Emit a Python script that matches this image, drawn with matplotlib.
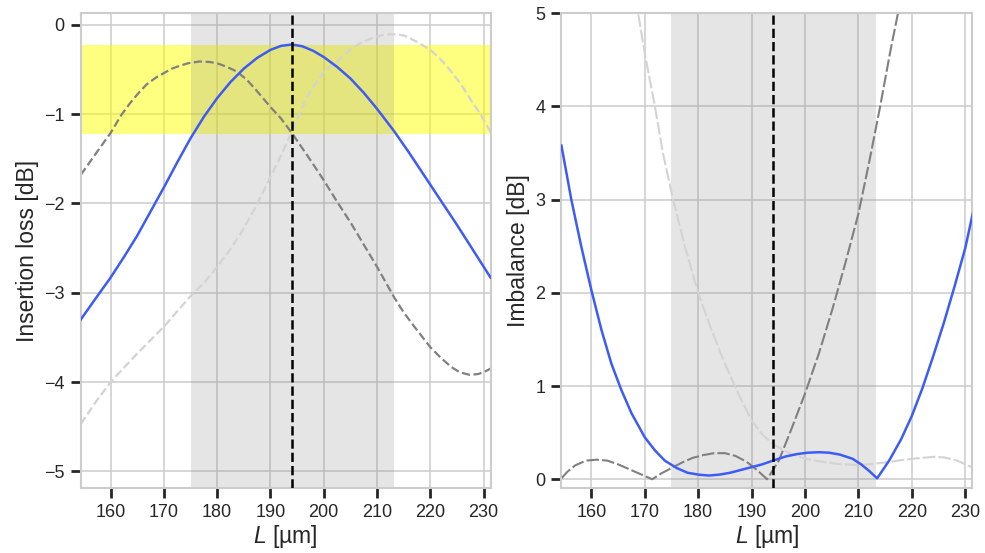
import numpy as np
import matplotlib
matplotlib.use("Agg")
import matplotlib.pyplot as plt

# ---- data ----
# insertion loss [dB]
il_blue_x = [154.4, 157, 160, 162.5, 165, 167.5, 170, 172.5, 175, 177.5, 180, 182.5, 185, 187.5, 190, 192, 194,
             196, 198, 200, 202.5, 205, 207.5, 210, 213.2, 216, 220, 225, 228, 231.3]
il_blue_y = [-3.30, -3.08, -2.83, -2.60, -2.36, -2.09, -1.82, -1.54, -1.27, -1.03, -0.82, -0.64, -0.49, -0.37,
             -0.28, -0.235, -0.22, -0.24, -0.29, -0.36, -0.47, -0.60, -0.76, -0.94, -1.19, -1.43, -1.79, -2.24,
             -2.52, -2.83]

il_dark_x = [154.4, 157, 160, 162, 163.6, 165, 166.7, 168.5, 170, 171.5, 172.9, 174.5, 176.7, 178.5, 180, 181.8,
             183.6, 185.5, 187.3, 190, 192, 194, 197, 200, 202.5, 205.1, 207.5, 210, 213.2, 215, 217, 220, 222,
             223.9, 225.5, 227.4, 229, 230, 231.3]
il_dark_y = [-1.68, -1.46, -1.21, -1.01, -0.88, -0.78, -0.67, -0.59, -0.54, -0.49, -0.46, -0.43, -0.41, -0.415,
             -0.43, -0.47, -0.52, -0.61, -0.73, -0.92, -1.05, -1.21, -1.47, -1.74, -1.98, -2.22, -2.46, -2.71,
             -3.05, -3.22, -3.38, -3.61, -3.73, -3.83, -3.89, -3.92, -3.91, -3.89, -3.85]

il_light_x = [154.4, 157, 160, 165, 170, 174.8, 177.5, 180, 182.5, 184.8, 187.5, 190, 192, 194, 195.75, 197.6,
              198.9, 200, 202.6, 204.5, 206.4, 208.3, 210, 211.3, 212.6, 214, 215.1, 217.5, 220, 222, 223.9,
              225.8, 227.6, 229.5, 231.3]
il_light_y = [-4.47, -4.24, -4.00, -3.68, -3.38, -3.05, -2.89, -2.71, -2.51, -2.30, -2.01, -1.70, -1.46, -1.20,
              -0.95, -0.73, -0.62, -0.53, -0.40, -0.30, -0.22, -0.165, -0.13, -0.11, -0.105, -0.11, -0.12, -0.19,
              -0.28, -0.39, -0.52, -0.67, -0.84, -1.01, -1.20]

# imbalance [dB]
im_blue_x = [154.4, 156.25, 158.1, 160, 161.9, 163.75, 165.6, 167.5, 170, 171.9, 173.75, 176, 178, 180, 182, 184,
             186, 188, 190, 192, 194, 196.4, 198.5, 200.5, 202.6, 204.5, 206.5, 208.9, 210.5, 212, 213.5, 215.75,
             218, 220, 222, 224, 226, 228, 230, 231.4]
im_blue_y = [3.58, 3.00, 2.50, 2.03, 1.60, 1.24, 0.96, 0.71, 0.45, 0.31, 0.20, 0.12, 0.07, 0.05, 0.04, 0.05,
             0.07, 0.10, 0.13, 0.16, 0.20, 0.245, 0.27, 0.285, 0.29, 0.285, 0.265, 0.22, 0.16, 0.09, 0.01, 0.20,
             0.43, 0.68, 0.98, 1.32, 1.68, 2.07, 2.48, 2.85]

im_dark_x = [154.4, 155.5, 157, 159, 161, 163, 165, 167, 169, 171.4, 173, 175, 177, 179, 181, 183, 185, 187,
             189, 191, 192.9, 195.1, 197.6, 200, 202.6, 205.1, 207.6, 210, 212, 214, 216, 217.4, 219]
im_dark_y = [0.01, 0.08, 0.15, 0.20, 0.21, 0.20, 0.16, 0.11, 0.06, 0.0, 0.06, 0.12, 0.18, 0.23, 0.26, 0.28,
             0.28, 0.25, 0.19, 0.10, 0.0, 0.20, 0.56, 0.92, 1.35, 1.82, 2.33, 2.85, 3.40, 3.98, 4.60, 5.0, 5.5]

im_light_x = [167, 168.75, 170, 171.9, 173.4, 175.3, 177.5, 180, 182.5, 185, 187.5, 190, 192, 194, 196, 198, 200,
              203, 206, 209, 212, 215, 218, 221, 224, 226, 228.5, 231.4]
im_light_y = [5.9, 5.0, 4.57, 4.00, 3.50, 3.00, 2.50, 2.00, 1.60, 1.24, 0.92, 0.63, 0.48, 0.38, 0.31, 0.26,
              0.22, 0.19, 0.165, 0.155, 0.16, 0.18, 0.205, 0.225, 0.24, 0.235, 0.20, 0.125]

L_opt = 194.0
span_lo, span_hi = 175.0, 213.2
band_top, band_bot = -0.22, -1.22

xticks = [160, 170, 180, 190, 200, 210, 220, 230]

# ---- style ----
plt.rcParams['font.family'] = ['Liberation Sans', 'DejaVu Sans']
plt.rcParams['mathtext.fontset'] = 'custom'
plt.rcParams['mathtext.it'] = 'Liberation Sans:italic'
plt.rcParams['mathtext.rm'] = 'Liberation Sans'

blue = '#3d5cf5'


def style_axes(ax):
    ax.set_axisbelow(True)
    ax.grid(True, color='#cccccc', lw=1.1)
    for s in ax.spines.values():
        s.set_color('#cccccc')
        s.set_linewidth(1.5)
    ax.tick_params(axis='both', which='major', length=7.5, width=2, color='#262626',
                   labelsize=13, labelcolor='#262626', pad=4)
    ax.set_xticks(xticks)
    ax.set_xlim(154.4, 231.3)
    ax.set_xlabel(r'$L$ [µm]', fontsize=16.5, color='#262626', labelpad=1)


fig = plt.figure(figsize=(9.85, 5.53), dpi=100)
ax1 = fig.add_axes([0.082, 0.117, 0.416, 0.859])
ax2 = fig.add_axes([0.570, 0.117, 0.417, 0.859])

# left: insertion loss
ax1.axhspan(band_bot, band_top, color='yellow', alpha=0.5, lw=0, zorder=1)
ax1.axvspan(span_lo, span_hi, color='gray', alpha=0.2, lw=0, zorder=1.5)
ax1.plot(il_dark_x, il_dark_y, '--', color='gray', lw=1.6, zorder=2)
ax1.plot(il_light_x, il_light_y, '--', color='lightgray', lw=1.6, zorder=2)
ax1.plot(il_blue_x, il_blue_y, '-', color=blue, lw=1.8, zorder=3)
ax1.axvline(L_opt, color='black', ls='--', lw=1.8, zorder=4)
style_axes(ax1)
ax1.set_ylim(-5.19, 0.13)
ax1.set_yticks([0, -1, -2, -3, -4, -5])
ax1.set_yticklabels(['0', '−1', '−2', '−3', '−4', '−5'])
ax1.set_ylabel('Insertion loss [dB]', fontsize=16.5, color='#262626')

# right: imbalance
ax2.axvspan(span_lo, span_hi, color='gray', alpha=0.2, lw=0, zorder=1.5)
ax2.plot(im_light_x, im_light_y, color='lightgray', lw=1.5, dashes=(6, 1.5), zorder=2)
ax2.plot(im_dark_x, im_dark_y, color='gray', lw=1.5, dashes=(6, 1.5), zorder=2)
ax2.plot(im_blue_x, im_blue_y, '-', color=blue, lw=1.8, zorder=3)
ax2.axvline(L_opt, color='black', ls='--', lw=1.8, zorder=4)
style_axes(ax2)
ax2.set_ylim(-0.097, 5.0)
ax2.set_yticks([0, 1, 2, 3, 4, 5])
ax2.set_ylabel('Imbalance [dB]', fontsize=16.5, color='#262626')

fig.savefig('out.png', dpi=100)
